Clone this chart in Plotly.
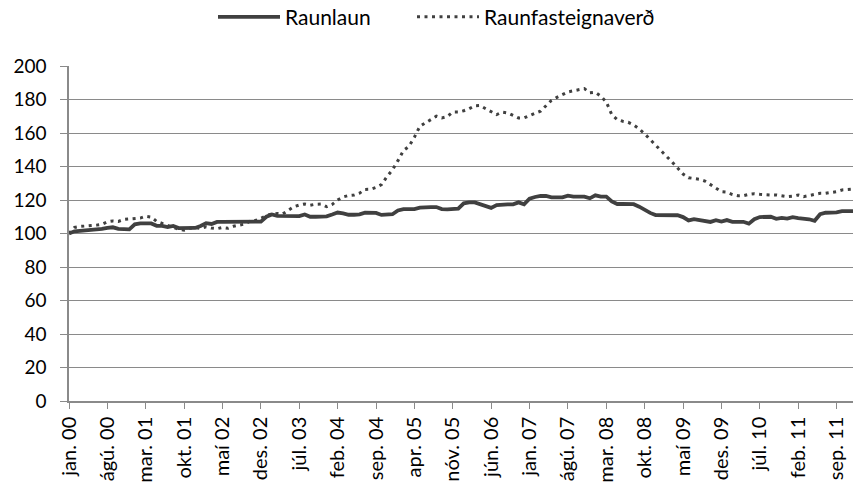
import plotly.graph_objects as go

month_names = ["jan.", "feb.", "mar.", "apr.", "maí", "jún.", "júl.", "ágú.", "sep.", "okt.", "nóv.", "des."]
years = ["00", "01", "02", "03", "04", "05", "06", "07", "08", "09", "10", "11"]
categories = [f"{m} {y}" for y in years for m in month_names]

raunlaun = [
    100.0, 101.3, 101.6, 101.8, 102.5, 102.6, 102.7, 103.3, 103.7, 102.8, 102.5, 102.5,
    105.5, 106.1, 106.1, 106.0, 104.6, 104.5, 103.8, 104.5, 103.2, 103.1, 103.1, 103.3,
    104.5, 106.2, 105.7, 106.9, 107.0, 107.0, 107.0, 107.0, 107.0, 107.0, 107.0, 107.1,
    110.0, 111.4, 110.5, 110.4, 110.4, 110.4, 110.4, 111.4, 110.0, 110.0, 110.0, 110.2,
    111.3, 112.5, 112.0, 111.2, 111.2, 111.4, 112.4, 112.4, 112.3, 111.1, 111.1, 111.5,
    113.8, 114.6, 114.6, 114.6, 115.4, 115.8, 115.8, 115.8, 114.6, 114.4, 114.4, 114.9,
    118.0, 118.6, 118.6, 117.6, 116.5, 115.3, 117.0, 117.4, 117.4, 117.4, 118.6, 117.4,
    120.8, 121.8, 122.4, 122.4, 121.6, 121.6, 121.6, 122.6, 122.0, 122.0, 122.0, 121.0,
    122.8, 122.0, 122.0, 119.2, 117.6, 117.6, 117.6, 117.5, 116.0, 114.0, 112.3, 111.0,
    110.9, 110.9, 110.9, 110.9, 109.8, 107.8, 108.6, 108.0, 107.6, 106.9, 107.9, 107.1,
    108.0, 107.0, 107.0, 107.0, 105.9, 108.5, 109.8, 110.0, 110.0, 108.8, 109.3, 108.9,
    109.8, 109.2, 108.9, 108.5, 107.6, 111.5, 112.4, 112.4, 112.6, 113.3, 113.4, 113.4,
]

raunfasteignaverd = [
    100.0, 103.6, 104.2, 104.4, 104.5, 105.0, 105.5, 107.0, 107.5, 107.2, 108.4, 108.6,
    108.7, 109.2, 110.3, 109.8, 107.2, 106.0, 104.8, 103.5, 102.5, 102.0, 103.2, 103.5,
    103.0, 104.0, 103.2, 102.9, 103.6, 103.1, 104.3, 105.0, 105.6, 107.4, 107.8, 109.0,
    110.8, 111.6, 112.0, 111.7, 113.6, 116.0, 117.0, 117.6, 116.9, 117.5, 117.6, 116.0,
    117.4, 120.0, 121.8, 122.7, 123.0, 124.1, 126.3, 126.4, 127.5, 129.2, 134.0, 138.0,
    143.5, 149.5, 152.0, 157.5, 164.0, 166.0, 168.5, 170.0, 169.0, 169.8, 172.5, 172.5,
    173.3, 174.5, 176.3, 176.4, 174.5, 172.5, 171.0, 172.5, 172.0, 170.5, 169.0, 169.0,
    170.5, 171.8, 173.0, 176.0, 179.5, 181.3, 183.0, 184.5, 185.2, 186.0, 186.5, 184.0,
    184.3, 182.0, 178.5, 171.0, 168.0, 167.0, 166.4, 164.8, 162.5, 159.5, 156.0, 152.5,
    149.0, 146.0, 142.7, 138.9, 135.5, 133.3, 132.8, 132.4, 131.3, 129.2, 127.5, 125.0,
    124.7, 123.2, 122.5, 122.6, 123.4, 123.8, 123.4, 123.0, 123.0, 123.0, 122.7, 122.0,
    122.3, 123.0, 122.0, 122.6, 123.0, 124.0, 124.0, 124.3, 125.0, 126.0, 126.4, 126.5,
]

tick_labels = categories[::7]
y_ticks = [0, 20, 40, 60, 80, 100, 120, 140, 160, 180, 200]

FONT = "Lato, 'Open Sans', sans-serif"
GRID = "#8a8a8a"
LINE = "#404040"

fig = go.Figure()
fig.add_trace(go.Scatter(
    x=categories, y=raunlaun, name="Raunlaun", mode="lines",
    line=dict(color=LINE, width=3.8), legend="legend",
))
fig.add_trace(go.Scatter(
    x=categories, y=raunfasteignaverd, name="Raunfasteignaverð", mode="lines",
    line=dict(color=LINE, width=3, dash="3px,4.5px"), legend="legend2",
))

legend_common = dict(
    orientation="h", xref="container", yref="container",
    xanchor="left", y=0.965, yanchor="middle",
    font=dict(size=21), itemwidth=62, bgcolor="rgba(0,0,0,0)",
)

fig.update_layout(
    width=854, height=491,
    margin=dict(l=69, r=1, t=66, b=90, autoexpand=False),
    paper_bgcolor="white", plot_bgcolor="white",
    font=dict(family=FONT, size=18, color="black"),
    showlegend=True,
    legend=dict(x=(219 - 6) / 854, **legend_common),
    legend2=dict(x=(418 - 6) / 854, **legend_common),
    xaxis=dict(
        type="category", range=[0, len(categories) - 1], automargin=False,
        tickmode="array", tickvals=tick_labels, ticktext=tick_labels,
        tickangle=-90, ticks="outside", ticklen=6, tickcolor=GRID,
        showline=True, linecolor=GRID, linewidth=1.5,
        showgrid=False, zeroline=False,
        tickfont=dict(size=20),
    ),
    yaxis=dict(
        range=[0, 200], tickvals=y_ticks, ticks="outside", ticklen=7, tickcolor=GRID,
        automargin=False, ticklabelstandoff=10,
        showline=True, linecolor=GRID, linewidth=1.5,
        showgrid=True, gridcolor=GRID, gridwidth=1.3, zeroline=False,
        tickfont=dict(size=19),
    ),
)

fig.write_html(
    "out.html",
    config={"displayModeBar": False},
    post_script="document.body.style.margin='0px';",
)
